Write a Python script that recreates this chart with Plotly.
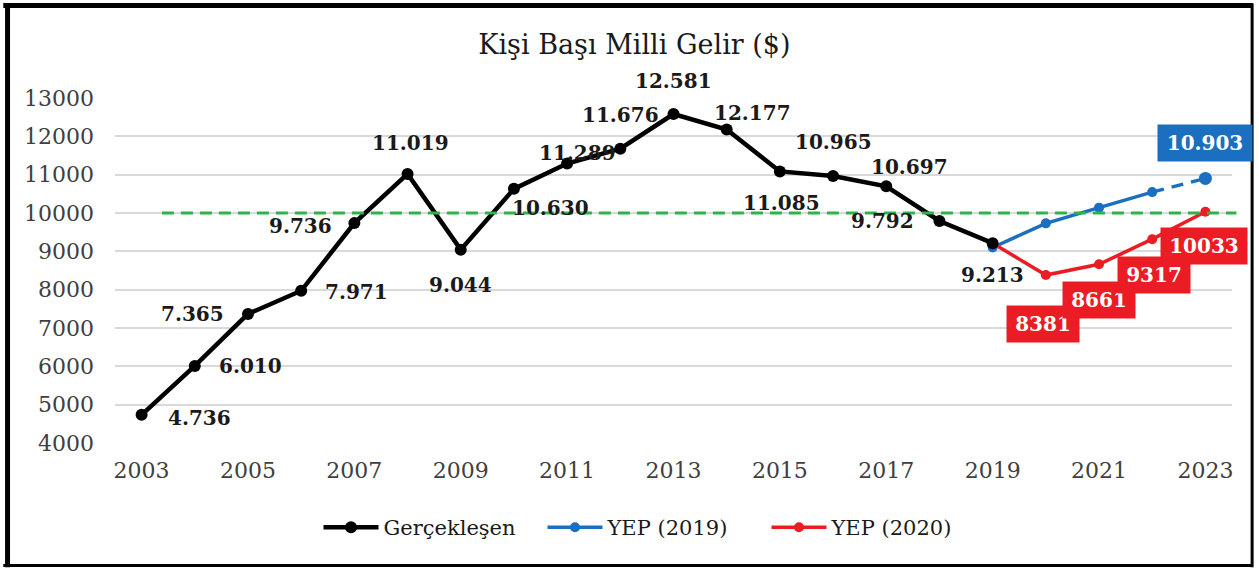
import plotly.graph_objects as go

# ---------------- data ----------------
years_actual = [2003, 2004, 2005, 2006, 2007, 2008, 2009, 2010, 2011,
                2012, 2013, 2014, 2015, 2016, 2017, 2018, 2019]
actual = [4736, 6010, 7365, 7971, 9736, 11019, 9044, 10630, 11289,
          11676, 12581, 12177, 11085, 10965, 10697, 9792, 9213]

years_yep = [2019, 2020, 2021, 2022, 2023]
yep2019 = [9100, 9730, 10140, 10545, 10903]
yep2020 = [9213, 8381, 8661, 9317, 10033]

threshold = 10000
x_ticks = [2003, 2005, 2007, 2009, 2011, 2013, 2015, 2017, 2019, 2021, 2023]
y_ticks = [4000, 5000, 6000, 7000, 8000, 9000, 10000, 11000, 12000, 13000]

title = "Kişi Başı Milli Gelir ($)"
names = ["Gerçekleşen", "YEP (2019)", "YEP (2020)"]

# ---------------- style ----------------
FONT = "DejaVu Serif"
BLACK = "#000000"
BLUE = "#1B6FC0"
RED = "#EC1C24"
GREEN = "#2EB34B"
GRID = "#D9D9D9"
TXT = "#404040"

# label offsets (px) for actual series labels
label_shift = [(58, -3), (56, 0), (-55, 0), (55, -1), (-54, -3), (3, 31),
               (0, -35), (37, -19), (10, 11), (0, 34), (0, 33), (26, 17),
               (2, -32), (0, 34), (23, 19), (-57, 0), (0, -32)]
red_shift = [(-3, -49), (0, -36), (2, -36), (-1, -34)]
blue_shift = (0, 35)


def dotted(v):
    return f"{v:,}".replace(",", ".")


fig = go.Figure()

# YEP 2019 (solid part until 2022, dashed last segment)
fig.add_trace(go.Scatter(
    x=years_yep[:-1], y=yep2019[:-1], mode="lines+markers", name=names[1],
    line=dict(color=BLUE, width=3.5), marker=dict(color=BLUE, size=10),
    legendrank=2))
fig.add_trace(go.Scatter(
    x=years_yep[-2:], y=yep2019[-2:], mode="lines", showlegend=False,
    line=dict(color=BLUE, width=3.5, dash="12px,8px")))
fig.add_trace(go.Scatter(
    x=years_yep[-1:], y=yep2019[-1:], mode="markers", showlegend=False,
    marker=dict(color=BLUE, size=13)))

# YEP 2020
fig.add_trace(go.Scatter(
    x=years_yep, y=yep2020, mode="lines+markers", name=names[2],
    line=dict(color=RED, width=3.5), marker=dict(color=RED, size=10),
    legendrank=3))

# actual
fig.add_trace(go.Scatter(
    x=years_actual, y=actual, mode="lines+markers", name=names[0],
    line=dict(color=BLACK, width=4.5), marker=dict(color=BLACK, size=12),
    legendrank=1))

annotations = []
for x, y, (dx, dy) in zip(years_actual, actual, label_shift):
    annotations.append(dict(
        x=x, y=y, text=dotted(y), showarrow=False, xshift=dx, yshift=dy,
        font=dict(family=FONT, size=20, color="#1a1a1a", weight="bold")))

for x, y, (dx, dy) in zip(years_yep[1:], yep2020[1:], red_shift):
    t = str(y)
    annotations.append(dict(
        x=x, y=y, text=t, showarrow=False, xshift=dx, yshift=dy,
        bgcolor=RED, borderpad=6, width=14 * len(t) + 4, height=24,
        font=dict(family=FONT, size=20, color="white", weight="bold")))

t = dotted(yep2019[-1])
annotations.append(dict(
    x=years_yep[-1], y=yep2019[-1], text=t, showarrow=False,
    xshift=blue_shift[0], yshift=blue_shift[1],
    bgcolor=BLUE, borderpad=6, width=82, height=24,
    font=dict(family=FONT, size=20, color="white", weight="bold")))

shapes = [
    dict(type="line", xref="paper", yref="y", x0=0.042, x1=1.004,
         y0=threshold, y1=threshold, layer="above",
         line=dict(color=GREEN, width=3, dash="12px,7px")),
    # frame
    dict(type="line", xref="paper", yref="paper", x0=-0.0962, x1=-0.0962,
         y0=1.275, y1=-0.36, line=dict(color="black", width=5)),
    dict(type="line", xref="paper", yref="paper", x0=-0.1, x1=1.0185,
         y0=1.268, y1=1.268, line=dict(color="black", width=5)),
    dict(type="line", xref="paper", yref="paper", x0=1.018, x1=1.018,
         y0=1.275, y1=-0.36, line=dict(color="black", width=3)),
    dict(type="line", xref="paper", yref="paper", x0=-0.1, x1=1.0185,
         y0=-0.355, y1=-0.355, line=dict(color="black", width=3)),
]

fig.update_layout(
    width=1259, height=570,
    paper_bgcolor="white", plot_bgcolor="white",
    margin=dict(l=115, r=27, t=98, b=127, autoexpand=False),
    title=dict(text=title, x=0.465, xref="paper", xanchor="center",
               y=0.922, yanchor="middle",
               font=dict(family=FONT, size=27, color="#1a1a1a")),
    font=dict(family=FONT, color=TXT),
    showlegend=True,
    legend=dict(orientation="h", x=0.483, xanchor="center", y=-0.245,
                yanchor="middle", font=dict(family=FONT, size=21, color="#1a1a1a"),
                itemwidth=55, entrywidth=154, entrywidthmode="pixels",
                traceorder="normal"),
    annotations=annotations,
    shapes=shapes,
)

fig.update_xaxes(range=[2002.5, 2023.5], tickvals=x_ticks,
                 ticktext=[str(v) for v in x_ticks],
                 showgrid=False, zeroline=False, showline=False,
                 ticks="", ticklabelstandoff=12,
                 tickfont=dict(family=FONT, size=22, color=TXT))
fig.update_yaxes(range=[4000, 13000], tickvals=y_ticks,
                 ticktext=[str(v) for v in y_ticks],
                 showgrid=True, gridcolor=GRID, gridwidth=1.5,
                 zeroline=False, showline=False, ticks="",
                 ticklabelstandoff=20,
                 tickfont=dict(family=FONT, size=22, color=TXT))

fig.write_html("out.html", config={"displayModeBar": False},
               post_script="document.body.style.margin='0';")
